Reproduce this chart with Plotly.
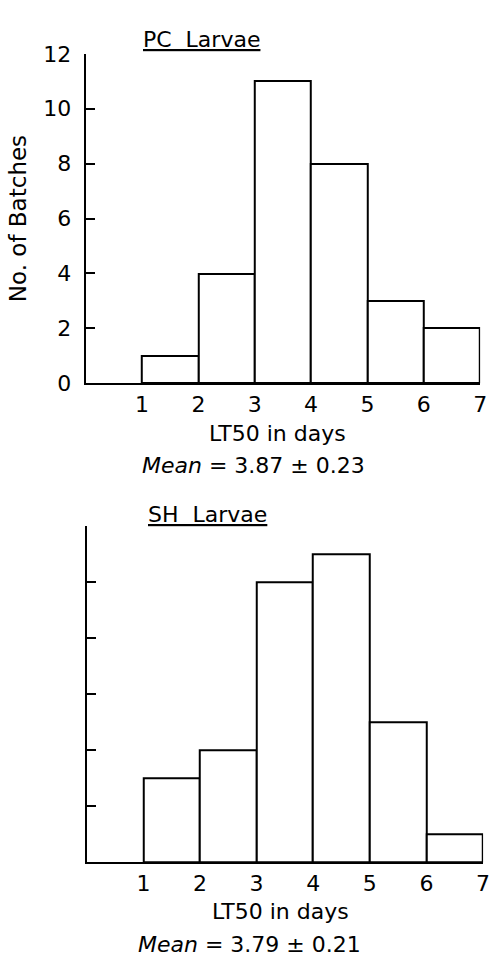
import plotly.graph_objects as go

# ---- data ----
bin_left = [1, 2, 3, 4, 5, 6]
bin_width = [1, 1, 1, 1, 1, 1]
pc_counts = [1, 4, 11, 8, 3, 2]
sh_counts = [3, 4, 10, 11, 5, 1]
x_ticks = [1, 2, 3, 4, 5, 6, 7]
x_tick_labels = ["1", "2", "3", "4", "5", "6", "7"]
y_ticks = [0, 2, 4, 6, 8, 10, 12]
y_tick_labels = ["0", "2", "4", "6", "8", "10", "12"]
pc_title = "PC  Larvae"
sh_title = "SH  Larvae"
x_title = "LT50 in days"
y_title = "No. of Batches"
pc_mean = "3.87 ± 0.23"
sh_mean = "3.79 ± 0.21"

FONT = "'DejaVu Sans', sans-serif"
W, H = 497, 968

fig = go.Figure()
bar_style = dict(marker=dict(color="white", line=dict(color="black", width=2)),
                 offset=0, showlegend=False, hoverinfo="skip")
fig.add_trace(go.Bar(x=bin_left, y=pc_counts, width=bin_width, xaxis="x", yaxis="y", **bar_style))
fig.add_trace(go.Bar(x=bin_left, y=sh_counts, width=bin_width, xaxis="x2", yaxis="y2", **bar_style))

def py(pix):
    return 1 - pix / H

xcommon = dict(range=[0, 7], showline=True, linecolor="black", linewidth=2,
               showgrid=False, zeroline=False, ticks="", tickvals=x_ticks,
               ticktext=x_tick_labels,
               tickfont=dict(family=FONT, size=22, color="black"), ticklabelstandoff=0)
ycommon = dict(range=[0, 12], showline=True, linecolor="black", linewidth=2,
               showgrid=False, zeroline=False, ticks="inside", ticklen=9, tickwidth=2,
               tickcolor="black", tickvals=y_ticks)

fig.update_layout(
    width=W, height=H, margin=dict(l=0, r=0, t=0, b=0),
    paper_bgcolor="white", plot_bgcolor="white", bargap=0,
    font=dict(family=FONT, color="black"),
    xaxis=dict(domain=[87 / W, 487 / W], anchor="y", **xcommon),
    yaxis=dict(domain=[py(381), py(43)], anchor="x", showticklabels=True,
               ticktext=y_tick_labels,
               tickfont=dict(family=FONT, size=22, color="black"), ticklabelstandoff=8,
               title=dict(text=y_title, font=dict(family=FONT, size=23, color="black"), standoff=10),
               **ycommon),
    xaxis2=dict(domain=[88 / W, 490 / W], anchor="y2", **xcommon),
    yaxis2=dict(domain=[py(873), py(528)], anchor="x2", showticklabels=False, **ycommon),
)

ann = []
def add(text, x, y, size, **kw):
    ann.append(dict(text=text, x=x / W, y=py(y), xref="paper", yref="paper",
                    showarrow=False, xanchor="center", yanchor="middle",
                    font=dict(family=FONT, size=size, color="black"), **kw))

add("<u>" + pc_title + "</u>", 204, 28, 22)
add("<u>" + sh_title + "</u>", 210, 516, 22)
add(x_title, 281, 433, 22)
add(x_title, 285, 923, 22)
add("<i>Mean</i> = " + pc_mean, 257, 466, 22)
add("<i>Mean</i> = " + sh_mean, 253, 957, 22)
fig.update_layout(annotations=ann)

fig.write_html("out.html")
